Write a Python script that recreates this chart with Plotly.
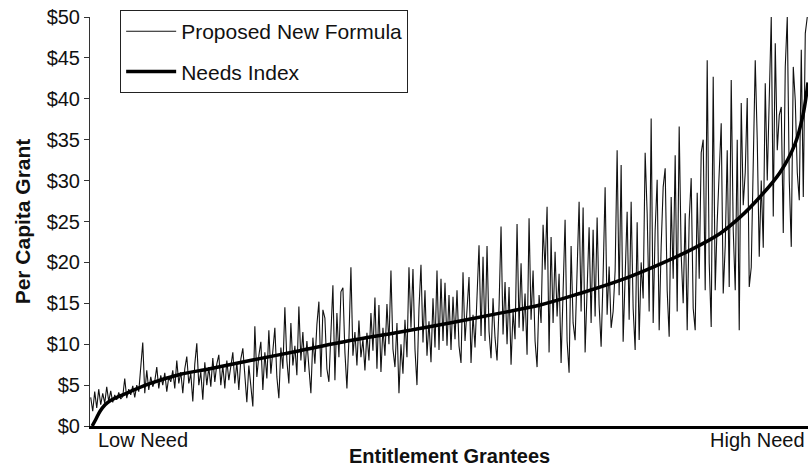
import numpy as np
import plotly.graph_objects as go

# Proposed New Formula: per-capita grant for each grantee, ordered by need
proposed = [
    3.5, 1.8, 4.2, 2.2, 4.5, 2.6, 4.0, 2.8, 4.8, 3.0, 4.3, 2.9, 3.8, 3.2, 4.1, 3.3, 3.6, 5.8, 3.4, 4.5,
    3.8, 4.9, 3.5, 5.0, 4.2, 7.5, 10.2, 4.0, 6.8, 4.4,
    6.0, 4.8, 5.5, 7.2, 4.6, 6.2, 5.0, 6.5, 4.2, 6.0, 5.4, 6.8, 4.6, 8.0, 5.2, 6.6, 4.0, 7.0, 8.5, 5.2,
    6.4, 3.0, 7.6, 10.1, 5.0,
    6.6, 3.2, 7.8, 5.0, 7.2, 4.8, 8.3, 5.4, 7.6, 8.7, 5.0, 7.4, 4.6, 8.0, 5.6, 7.2, 9.0, 5.2, 7.8, 4.4,
    8.2, 9.5, 5.6, 2.9, 7.4,
    5.0, 2.4, 12.2, 6.0, 8.6, 10.3, 4.4, 9.0, 5.8, 11.7, 6.4, 9.2, 12.0, 6.0, 3.4, 9.6, 7.0, 14.5, 8.0, 5.2,
    12.6, 7.4, 9.8, 6.2, 14.6,
    8.0, 11.5, 6.6, 10.4, 7.2, 4.0, 10.8, 7.6, 12.4, 15.2, 6.0, 14.2, 13.2, 7.0, 5.4, 12.0, 17.2, 5.6, 13.8, 8.4,
    16.4, 16.9, 9.0, 4.6, 10.6,
    19.4, 8.6, 11.5, 7.4, 12.9, 8.4, 10.6, 6.8, 11.4, 8.0, 13.8, 9.2, 15.7, 7.0, 14.8, 6.6, 12.0, 8.6, 14.9, 10.0,
    19.0, 9.4, 7.2, 12.6, 4.0,
    10.0, 6.4, 13.0, 8.4, 19.4, 12.0, 19.2, 9.4, 5.0, 14.4, 19.7, 10.2, 16.6, 8.6, 12.8, 7.8, 15.6, 9.6, 19.0, 9.3,
    18.0, 10.4, 17.5, 9.8, 16.0,
    9.3, 15.8, 10.6, 16.6, 9.8, 7.7, 18.8, 10.4, 14.2, 18.2, 7.7, 13.6, 9.6, 16.0, 22.1, 11.0, 20.7, 10.4, 22.0, 11.6,
    8.3, 15.6, 10.8, 8.0, 14.6,
    24.4, 11.2, 17.6, 10.0, 17.0, 7.5, 14.0, 10.6, 24.7, 12.0, 19.9, 11.6, 16.2, 8.7, 25.4, 13.0, 19.0, 10.4, 7.2, 16.0,
    12.6, 24.6, 19.1, 26.8, 9.0,
    23.1, 12.6, 21.3, 13.4, 18.6, 7.7, 16.0, 25.2, 10.4, 6.5, 22.0, 12.6, 10.5, 20.0, 27.4, 14.0, 26.7, 9.0, 18.0, 24.3,
    12.6, 24.0, 13.4, 25.5, 14.8,
    9.7, 18.4, 29.2, 13.6, 19.5, 12.0, 14.0, 19.0, 33.7, 16.0, 31.9, 10.3, 18.4, 26.2, 13.0, 27.4, 14.4, 9.3, 24.9, 10.5,
    20.0, 15.6, 33.4, 26.0, 14.0,
    37.6, 12.6, 24.0, 30.1, 11.7, 22.0, 29.2, 31.5, 16.6, 10.9, 28.0, 18.0, 33.1, 14.0, 36.6, 21.0, 15.0, 26.0, 11.7, 25.2,
    30.3, 14.4, 11.7, 28.5, 18.0,
    33.4, 35.0, 16.6, 44.7, 20.0, 12.1, 42.7, 16.6, 25.0, 30.4, 37.0, 16.2, 22.0, 33.7, 17.0, 42.3, 24.0, 16.6, 35.0, 11.7,
    39.5, 27.0, 31.0, 40.1, 17.0,
    19.4, 31.0, 44.7, 35.0, 20.7, 30.0, 21.8, 41.9, 30.0, 40.0, 50.0, 25.6, 46.8, 33.7, 38.0, 39.0, 23.6, 43.9, 50.0, 30.0,
    21.9, 43.9, 39.8, 31.0, 27.6, 46.0, 28.0, 48.0, 50.0,
]
proposed_rank = np.linspace(1, 999, len(proposed))

# Needs Index curve (grantee rank, per-capita value)
needs_rank = [3, 8, 14, 21, 28, 56, 84, 125, 167, 223, 292, 348, 432, 501, 571, 627,
              682, 738, 794, 836, 877, 905, 933, 961, 982, 993, 1000]
needs_value = [0.0, 0.8, 1.8, 2.6, 3.1, 4.2, 5.2, 6.3, 7.0, 8.0, 9.2, 10.2, 11.5, 12.6, 13.8, 14.8,
               16.2, 17.8, 19.8, 21.5, 23.5, 25.5, 28.0, 31.0, 34.5, 38.0, 42.0]

y_ticks = [0, 5, 10, 15, 20, 25, 30, 35, 40, 45, 50]
y_tick_labels = ["$" + str(v) for v in y_ticks]

FONT = "Arial, Liberation Sans, sans-serif"

fig = go.Figure()
fig.add_trace(go.Scatter(
    x=proposed_rank, y=proposed, mode="lines", name="Proposed New Formula",
    line=dict(color="#111111", width=1.1), legendgroup="a",
))
fig.add_trace(go.Scatter(
    x=needs_rank, y=needs_value, mode="lines", name="Needs Index",
    line=dict(color="#000000", width=3.5, shape="spline"), legendgroup="b",
))

fig.update_layout(
    width=811, height=469,
    margin=dict(l=90, r=3, t=17, b=43),
    paper_bgcolor="white", plot_bgcolor="white",
    font=dict(family=FONT, size=20, color="#111111"),
    showlegend=True,
    legend=dict(
        x=0.042, y=1.017, xanchor="left", yanchor="top",
        bordercolor="#222222", borderwidth=1, bgcolor="white",
        font=dict(size=21), tracegroupgap=10, traceorder="grouped",
        itemwidth=50,
    ),
    xaxis=dict(
        range=[0, 1000], showticklabels=False, ticks="", showgrid=False, zeroline=False,
        showline=True, linecolor="#000000", linewidth=2.5,
    ),
    yaxis=dict(
        range=[0, 50], tickvals=y_ticks, ticktext=y_tick_labels,
        ticks="outside", ticklen=5, tickcolor="#333333", showgrid=False, zeroline=False,
        showline=True, linecolor="#333333", linewidth=1, automargin=False,
        title=dict(text="<b>Per Capita Grant</b>", font=dict(size=21), standoff=10),
        tickfont=dict(size=20),
    ),
    annotations=[
        dict(text="Low Need", xref="paper", yref="paper", x=0.009, y=-0.034,
             xanchor="left", yanchor="middle", showarrow=False, font=dict(size=20)),
        dict(text="High Need", xref="paper", yref="paper", x=0.998, y=-0.034,
             xanchor="right", yanchor="middle", showarrow=False, font=dict(size=20)),
        dict(text="<b>Entitlement Grantees</b>", xref="paper", yref="paper", x=0.50, y=-0.073,
             xanchor="center", yanchor="middle", showarrow=False, font=dict(size=20)),
    ],
)

fig.write_html("out.html", config={"displayModeBar": False},
               post_script="document.body.style.margin='0';")
